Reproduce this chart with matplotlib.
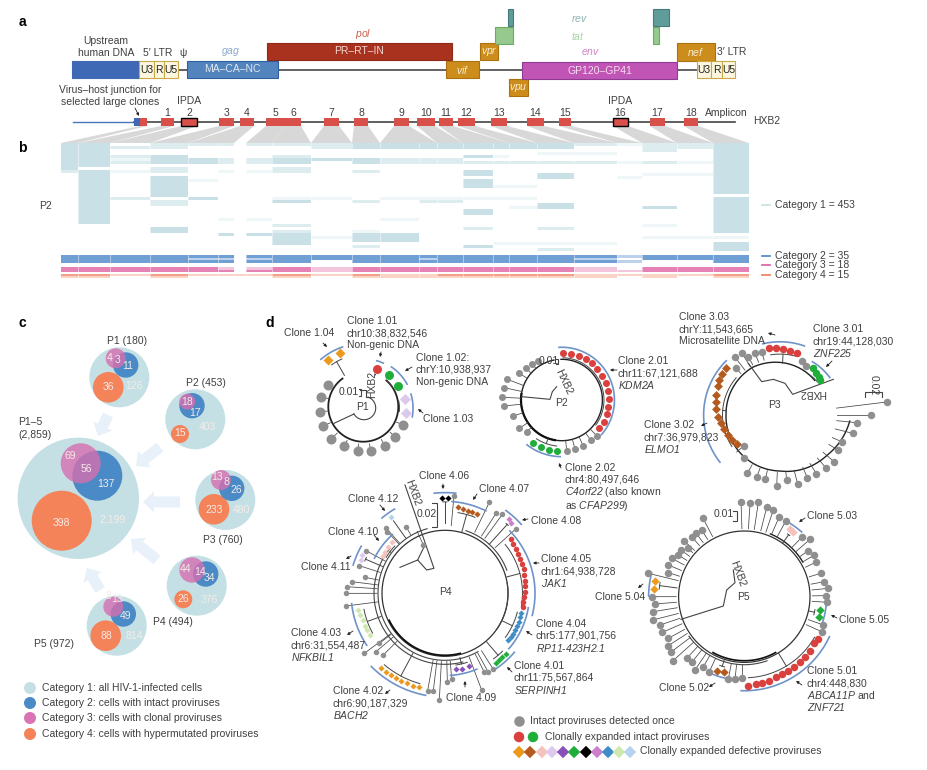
#!/usr/bin/env python
"""HIV-1 provirus figure: genome map, amplicon heat map, Venn bubbles and clone trees.

The whole figure is one axes scaled to the picture's pixels. Tree tips were read
off 3x crops, so they are kept as crop coordinates and converted with crop().
"""

import numpy as np
import matplotlib

matplotlib.use("Agg")
import matplotlib.pyplot as plt
from matplotlib.colors import ListedColormap
from matplotlib.patches import Circle, FancyArrow, Rectangle

plt.rcParams["font.family"] = ["Liberation Sans", "DejaVu Sans"]
plt.rcParams["mathtext.fontset"] = "custom"
# digits in mathtext come from the rm slot, so that one is italic as well
plt.rcParams["mathtext.rm"] = "Liberation Sans:italic"
plt.rcParams["mathtext.it"] = "Liberation Sans:italic"

W, H = 927, 770
FS = 7.5
INK = "#3f3f3f"

# panel a: genome map, (name, start, end, top, bottom, fill, edge, label colour)
GENES = [
    ("", 72, 139, 61, 78, "#3f68b5", "#3f68b5", "white"),
    ("MA–CA–NC", 187, 278, 61, 78, "#5384bd", "#2f5f9f", "#dfe8f2"),
    ("PR–RT–IN", 267, 452, 43, 60, "#a8321e", "#8f2a18", "#f2d8d2"),
    ("$\\mathit{vif}$", 446, 479, 61, 78, "#cc8d1c", "#a9720f", "#f8ecd2"),
    ("$\\mathit{vpr}$", 480, 498, 43, 60, "#cc8d1c", "#a9720f", "#f8ecd2"),
    ("$\\mathit{vpu}$", 509, 528, 79, 96, "#cc8d1c", "#a9720f", "#f8ecd2"),
    ("$\\mathit{nef}$", 677, 715, 43, 61, "#cc8d1c", "#a9720f", "#f8ecd2"),
    ("GP120–GP41", 522, 677, 62, 79, "#c155b5", "#8e3b96", "#f4dcf1"),
    ("", 495, 513, 27, 44, "#95c98d", "#6ea968", "white"),
    ("", 653, 659, 27, 44, "#95c98d", "#6ea968", "white"),
    ("", 508, 513, 9, 26, "#5f9c9a", "#437c7a", "white"),
    ("", 653, 669, 9, 26, "#5f9c9a", "#437c7a", "white"),
]
LTR_NAMES = ["U3", "R", "U5"]
LTR5_EDGES = [139, 154, 164, 178]
LTR3_EDGES = [697, 711, 722, 735]
GENOME_LINKS = [(178, 187), (278, 446), (479, 522), (677, 697)]

# amplicons along HXB2
AMP_NAMES = ["", "1", "2", "3", "4", "5", "6", "7", "8", "9", "10", "11", "12", "13", "14", "15", "16", "17", "18"]
AMP_START = [140, 161, 181, 219, 240, 266, 285, 324, 354, 394, 417, 439, 458, 491, 527, 559, 613, 650, 684]
AMP_END = [147, 174, 197, 234, 254, 285, 301, 339, 368, 409, 435, 453, 475, 507, 544, 571, 628, 665, 698]
AMP_IPDA = ["2", "16"]
# first and last heat map column fed by each amplicon
AMP_COL_FROM = [0, 1, 2, 3, 4, 7, 8, 9, 10, 11, 13, 14, 16, 17, 18, 19, 20, 21, 22]
AMP_COL_TO = [0, 1, 2, 3, 5, 7, 8, 9, 10, 12, 13, 15, 16, 17, 18, 19, 20, 21, 22]

# panel b: heat map columns
COL_EDGES = [61, 78, 110, 150, 188, 218, 234, 246, 272, 311, 352, 380, 419, 437, 463, 493, 509, 537, 574, 617, 642, 677, 713, 749]
# category 1, per column: (first row, last row + 1, level)
CAT1_BANDS = [
    [(0, 9, 3), (9, 10, 2)],
    [(0, 8, 3), (9, 27, 3)],
    [(1, 2, 2), (4, 5, 2), (5, 6, 1), (6, 7, 2), (9, 10, 1), (18, 19, 2)],
    [(0, 2, 2), (4, 7, 3), (8, 10, 2), (11, 18, 3), (19, 21, 2), (28, 30, 3)],
    [(0, 1, 2), (5, 7, 3), (18, 19, 3), (12, 13, 1)],
    [(0, 1, 2), (5, 7, 2), (25, 26, 1), (30, 31, 3), (9, 10, 1)],
    [],
    [(0, 1, 2), (5, 7, 2), (25, 26, 1), (30, 31, 3), (9, 10, 1)],
    [(0, 1, 2), (4, 5, 2), (5, 7, 3), (8, 10, 2), (19, 20, 3), (27, 28, 2), (29, 30, 2), (30, 34, 3), (18, 19, 1)],
    [(0, 2, 2), (5, 6, 3), (31, 32, 1), (18, 19, 1)],
    [(0, 2, 3), (5, 7, 3), (9, 10, 2), (19, 20, 2), (29, 30, 1), (30, 33, 3), (34, 35, 2)],
    [(0, 2, 3), (5, 7, 2), (30, 33, 3), (25, 26, 1), (18, 19, 1)],
    [(0, 2, 3), (5, 7, 2), (19, 20, 2), (18, 19, 1)],
    [(0, 2, 3), (5, 7, 2), (19, 20, 2), (18, 19, 1)],
    [(0, 2, 3), (4, 5, 3), (6, 7, 2), (9, 11, 3), (12, 15, 3), (22, 24, 3), (28, 29, 2), (34, 35, 3), (18, 19, 1)],
    [(0, 2, 3), (4, 5, 1), (6, 7, 2), (14, 15, 1), (18, 19, 1), (33, 34, 1)],
    [(0, 2, 3), (6, 7, 2), (14, 15, 1), (18, 19, 1), (21, 22, 1), (33, 34, 1)],
    [(0, 2, 3), (3, 4, 1), (6, 7, 2), (10, 12, 3), (20, 22, 3), (28, 29, 2), (35, 36, 2), (33, 34, 1)],
    [(0, 1, 2), (3, 4, 1), (6, 7, 2), (33, 34, 1)],
    [(0, 1, 1), (6, 7, 1), (11, 12, 1)],
    [(0, 3, 2), (6, 7, 2), (10, 11, 1), (21, 22, 3), (27, 28, 1), (31, 32, 1)],
    [(0, 2, 2), (6, 7, 1), (10, 11, 1), (31, 32, 1)],
    [(0, 5, 3), (5, 17, 3), (18, 30, 3), (31, 32, 1), (33, 36, 3)],
]
N_CAT1_ROWS = 36
# categories 2 to 4, per column, top row first, level digit per row
CAT2_ROWS = ["222", "222", "222", "222", "212", "212", "000", "212", "222", "220", "222", "222", "212",
             "222", "222", "222", "222", "222", "212", "101", "220", "220", "222"]
CAT3_ROWS = ["22", "22", "22", "22", "22", "12", "00", "12", "22", "11", "22", "22", "22",
             "22", "22", "22", "22", "22", "11", "01", "22", "22", "22"]
CAT4_ROWS = ["21", "21", "10", "21", "10", "10", "10", "10", "21", "10", "21", "11", "11",
             "21", "21", "21", "21", "21", "11", "10", "11", "10", "21"]
B_LEGEND = ["Category 1 = 453", "Category 2 = 35", "Category 3 = 18", "Category 4 = 15"]
B_LEGEND_Y = [205, 256, 265, 275]

CAT_COLORS = ["#c5e0e4", "#4a8ac6", "#d974b4", "#f5835a"]
CAT_LABELS = [
    "Category 1: all HIV-1-infected cells",
    "Category 2: cells with intact proviruses",
    "Category 3: cells with clonal proviruses",
    "Category 4: cells with hypermutated proviruses",
]

# panel c: one row per bubble group, circles in the order all, hyper, intact, clonal
BUB_X = [
    [119.3, 108.3, 125.7, 115.7],
    [195.3, 180.0, 192.0, 187.3],
    [225.3, 214.0, 231.7, 221.0],
    [196.7, 183.3, 205.7, 192.0],
    [116.7, 105.7, 123.3, 113.3],
    [78.3, 61.7, 97.3, 80.7],
]
BUB_Y = [
    [377.3, 387.3, 365.0, 358.3],
    [419.3, 434.0, 405.7, 401.7],
    [500.0, 509.3, 488.3, 480.0],
    [585.7, 599.3, 574.0, 570.0],
    [625.7, 635.7, 614.0, 606.7],
    [498.3, 520.7, 475.7, 463.3],
]
BUB_R = [
    [30, 15.3, 12.7, 10],
    [30, 9, 12.7, 8],
    [30, 15.3, 12.7, 10],
    [30, 9, 12.7, 12.7],
    [30, 15.3, 12.7, 10],
    [60.7, 30, 25, 20],
]
# (text, x, y)
BUB_VALUES = [
    ("126", 134, 386), ("36", 108, 387), ("11", 128, 366), ("3", 118, 360), ("4", 110, 358),
    ("403", 207, 427), ("15", 180, 433), ("17", 195, 413), ("18", 187, 402),
    ("480", 241, 510), ("233", 214, 510), ("26", 236, 490), ("8", 226, 482), ("13", 217, 477),
    ("376", 209, 600), ("26", 183, 599), ("34", 209, 578), ("14", 200, 572), ("44", 186, 569),
    ("814", 134, 636), ("88", 106, 636), ("49", 126, 616), ("13", 117, 599), ("8", 108, 596),
    ("2,199", 113, 520), ("398", 61, 523), ("137", 106, 484), ("56", 86, 469), ("69", 70, 456),
]
BUB_TITLES = [
    ("P1 (180)", 127, 341), ("P2 (453)", 206, 383), ("P3 (760)", 223, 540),
    ("P4 (494)", 173, 622), ("P5 (972)", 54, 644),
]
FLOW_FROM = [(108, 415), (160, 447), (180, 502), (157, 560), (100, 590)]
FLOW_TO = [(98, 436), (136, 466), (143, 502), (131, 539), (87, 568)]

# panel d: tips
P1_CROP = (260, 300)
P1_GREY = [(203, 256), (184, 290), (180, 335), (189, 378), (213, 417), (253, 438), (293, 452), (332, 452), (375, 438), (405, 410), (430, 375)]
P1_RED = [(352, 208)]
P1_GREEN = [(388, 226), (415, 257)]
P1_LILAC = [(435, 297), (437, 338)]
P1_ORANGE = [(203, 181), (240, 160)]

P2_CROP = (490, 330)
P2_GREY = [(320, 317), (302, 330), (280, 348), (255, 357), (230, 362), (110, 305), (88, 295), (70, 258), (42, 228), (37, 202), (42, 173), (52, 148), (88, 130), (107, 115), (127, 102), (145, 92)]
P2_RED = [(218, 68), (243, 71), (266, 78), (287, 87), (305, 100), (322, 118), (335, 138), (348, 160), (355, 183), (357, 207), (355, 230), (352, 252), (342, 275), (328, 295)]
P2_GREEN = [(200, 362), (176, 360), (152, 350), (130, 338)]

P3_CROP = (620, 300)
P3_GREY = [(425, 155), (405, 160), (385, 170), (365, 158), (345, 172), (348, 205), (545, 183), (557, 197), (372, 437), (373, 473), (382, 520), (410, 532), (436, 538), (470, 558), (500, 540), (533, 552), (562, 533), (589, 521), (619, 505), (642, 485), (654, 450), (665, 425), (698, 400), (710, 368), (752, 345), (800, 306)]
P3_RED = [(447, 143), (468, 143), (490, 147), (510, 152), (530, 160)]
P3_GREEN = [(580, 205), (588, 218), (597, 230), (600, 240)]
P3_BROWN = [(318, 205), (305, 222), (298, 240), (293, 258), (288, 285), (287, 305), (288, 328), (295, 350), (302, 368), (312, 388), (325, 405), (337, 420), (350, 432)]

P4_CROP = (280, 480)
P4_GREY = [(522, 47), (628, 67), (648, 100), (667, 103), (707, 147), (640, 568), (625, 577), (605, 630), (612, 575), (515, 598), (502, 605), (478, 660), (460, 632), (443, 632), (310, 525), (288, 515), (253, 520), (298, 490), (198, 378), (198, 340), (200, 320), (215, 305), (255, 292), (238, 257), (258, 212), (322, 155), (317, 143), (378, 140), (430, 195)]
P4_RED = [(692, 178), (700, 192), (708, 207), (715, 222), (721, 237), (727, 252), (731, 268), (733, 285), (735, 302), (736, 318), (735, 335), (733, 350), (730, 365), (728, 380)]
P4_BLUE = [(724, 398), (720, 412), (716, 425), (712, 438), (706, 450), (700, 462), (692, 470), (684, 480)]
P4_GREEN = [(678, 522), (667, 530), (657, 540), (647, 548)]
P4_PURPLE = [(528, 568), (546, 566), (567, 557)]
P4_ORANGE = [(302, 565), (318, 575), (333, 585), (348, 595), (363, 602), (380, 610), (400, 617), (418, 622)]
P4_LTGREEN = [(233, 390), (240, 405), (248, 420), (255, 437), (262, 450), (270, 465)]
P4_LILAC = [(247, 225), (243, 240)]
P4_PINK = [(335, 187), (325, 200), (315, 215), (308, 228)]
P4_LTBLUE = [(333, 112)]
P4_BROWN = [(535, 82), (550, 87), (563, 92), (576, 96), (590, 103)]
P4_MAGENTA = [(687, 118), (693, 130)]
P4_BLACK = [(487, 53), (503, 53)]

P5_CROP = (580, 480)
P5_GREY = [(483, 65), (510, 70), (535, 67), (560, 82), (580, 90), (597, 112), (618, 122), (667, 170), (690, 178), (683, 213), (703, 225), (707, 247), (722, 280), (733, 305), (745, 325), (737, 347), (742, 367), (730, 435), (725, 455), (368, 113), (365, 150), (347, 158), (335, 170), (313, 183), (323, 205), (303, 210), (295, 225), (275, 235), (265, 255), (265, 278), (205, 280), (217, 350), (225, 372), (220, 395), (218, 420), (240, 435), (247, 457), (265, 475), (265, 497), (272, 517), (278, 543), (320, 535), (337, 545), (345, 570), (370, 560), (388, 575), (445, 597), (465, 597), (487, 595)]
P5_RED = [(714, 476), (703, 490), (690, 512), (675, 530), (660, 545), (643, 560), (625, 572), (607, 582), (588, 592), (568, 602), (547, 608), (527, 613), (505, 617)]
P5_BROWN = [(412, 572), (432, 575)]
P5_ORANGE = [(225, 303), (222, 327)]
P5_PINK = [(630, 148), (640, 155)]
P5_GREEN = [(720, 390), (717, 410)]

GREY = "#8f8f8f"
RED = "#d9403e"
GREEN = "#1fae3a"
ORANGE = "#ec9a1f"
BROWN = "#b45a1f"
PINK = "#f5c2bd"
LILAC = "#dcc9ec"
PURPLE = "#8a50ba"
MAGENTA = "#cc7fcb"
BLUE = "#3e8dc4"
LTGREEN = "#cfe8b0"
LTBLUE = "#b5d3ec"
ARC_BLUE = "#6f93c9"
DIAMOND_KEY = [ORANGE, BROWN, PINK, LILAC, PURPLE, GREEN, "black", MAGENTA, BLUE, LTGREEN, LTBLUE]
DIAMOND_KEY_X = [519, 530, 542, 552, 563, 574, 586, 597, 608, 619, 630]

# (lines, x, first y); line spacing is 12 px, mathtext marks the italic parts
CLONE_TEXT = [
    (["Clone 1.04"], 284, 333),
    (["Clone 1.01", "chr10:38,832,546", "Non-genic DNA"], 347, 321),
    (["Clone 1.02:", "chrY:10,938,937", "Non-genic DNA"], 416, 358),
    (["Clone 1.03"], 423, 419),
    (["Clone 2.01", "chr11:67,121,688", "$\\mathit{KDM2A}$"], 618, 361),
    (["Clone 2.02", "chr4:80,497,646", "$\\mathit{C4orf22}$ (also known"], 565, 468),
    (["as $\\mathit{CFAP299}$)"], 565, 506),
    (["Clone 3.03", "chrY:11,543,665", "Microsatellite DNA"], 679, 317),
    (["Clone 3.01", "chr19:44,128,030", "$\\mathit{ZNF225}$"], 813, 329),
    (["Clone 3.02", "chr7:36,979,823", "$\\mathit{ELMO1}$"], 644, 425),
    (["Clone 4.06"], 419, 476),
    (["Clone 4.07"], 479, 489),
    (["Clone 4.08"], 531, 521),
    (["Clone 4.12"], 348, 499),
    (["Clone 4.10"], 328, 532),
    (["Clone 4.11"], 301, 567),
    (["Clone 4.05", "chr1:64,938,728", "$\\mathit{JAK1}$"], 541, 559),
    (["Clone 4.04", "chr5:177,901,756", "$\\mathit{RP11}$-$\\mathit{423H2.1}$"], 536, 624),
    (["Clone 4.01", "chr11:75,567,864", "$\\mathit{SERPINH1}$"], 514, 666),
    (["Clone 4.09"], 446, 698),
    (["Clone 4.02", "chr6:90,187,329", "$\\mathit{BACH2}$"], 333, 691),
    (["Clone 4.03", "chr6:31,554,487", "$\\mathit{NFKBIL1}$"], 291, 633),
    (["Clone 5.03"], 807, 516),
    (["Clone 5.04"], 595, 597),
    (["Clone 5.05"], 839, 620),
    (["Clone 5.01", "chr4:448,830", "$\\mathit{ABCA11P}$ and", "$\\mathit{ZNF721}$"], 807, 671),
    (["Clone 5.02"], 659, 688),
]
# (text, x, y, rotation)
TREE_TEXT = [
    ("P1", 363, 407, 0), ("HXB2", 372, 384, 90), ("0.01", 349, 392, 0),
    ("P2", 562, 403, 0), ("HXB2", 564, 382, -65), ("0.01", 549, 361, 0),
    ("P3", 774, 405, 0), ("HXB2", 813, 393, 180), ("0.02", 874, 385, -90),
    ("P4", 445, 592, 0), ("HXB2", 413, 493, -70), ("0.02", 427, 514, 0),
    ("P5", 743, 597, 0), ("HXB2", 738, 574, -70), ("0.01", 724, 514, 0),
]
POINTER_FROM = [(323, 343), (381, 352), (412, 367), (423, 413), (617, 370), (561, 468), (775, 335), (832, 361), (707, 423),
                (443, 484), (477, 494), (528, 519), (380, 505), (374, 535), (351, 556), (539, 563), (532, 635), (512, 672),
                (465, 687), (390, 690), (353, 631), (805, 518), (643, 584), (837, 618), (802, 685), (715, 683), (135, 108)]
POINTER_TO = [(327, 347), (380, 357), (405, 371), (418, 409), (610, 370), (559, 463), (768, 333), (826, 367), (701, 426),
              (443, 489), (473, 500), (522, 520), (385, 511), (379, 541), (346, 559), (533, 563), (526, 631), (507, 667),
              (465, 681), (385, 694), (347, 635), (799, 522), (638, 588), (831, 615), (796, 681), (709, 687), (139, 116)]


def crop(points, origin):
    """3x crop coordinates to picture pixels."""
    pts = np.asarray(points, dtype=float)
    return origin[0] + pts[:, 0] / 3, origin[1] + pts[:, 1] / 3


def put(ax, x, y, s, size=FS, color=INK, ha="center", va="center", **kw):
    ax.text(x, y, s, fontsize=size, color=color, ha=ha, va=va, **kw)


def arc_xy(center, radius, a0, a1):
    ang = np.radians(np.linspace(a0, a1, 120))
    return center[0] + radius * np.cos(ang), center[1] - radius * np.sin(ang)


def arc(ax, center, radius, a0, a1, color="#444444", lw=0.8):
    x, y = arc_xy(center, radius, a0, a1)
    ax.plot(x, y, color=color, lw=lw, solid_capstyle="butt", zorder=2)


def marks(ax, x, y, color, marker, d):
    size = (d * 0.72) ** 2
    if marker == "D":
        size *= 0.62
    ax.scatter(x, y, s=size, c=color, marker=marker, linewidths=0, zorder=3)


def tips(ax, pts, origin, center, rb, color, d=8):
    """Single proviruses: marker with its own straight branch back to radius rb."""
    x, y = crop(pts, origin)
    dist = np.hypot(x - center[0], y - center[1])
    fx = center[0] + (x - center[0]) * rb / dist
    fy = center[1] + (y - center[1]) * rb / dist
    for a, b, c, e in zip(fx, fy, x, y):
        ax.plot([a, c], [b, e], color="#444444", lw=0.55, zorder=2)
    marks(ax, x, y, color, "o", d)


def clone(ax, pts, origin, center, rb, color, marker="o", d=8, gap=4):
    """A clone: markers on one inner bracket, one stem to rb, blue arc outside."""
    x, y = crop(pts, origin)
    dist = np.hypot(x - center[0], y - center[1])
    ang = np.unwrap(np.degrees(np.arctan2(center[1] - y, x - center[0])), period=360)
    inner = dist.mean() - d / 2 - 1.5
    outer = dist.max() + gap
    mid = np.radians(ang.mean())
    arc(ax, center, inner, ang.min(), ang.max(), lw=0.7)
    ax.plot([center[0] + rb * np.cos(mid), center[0] + inner * np.cos(mid)],
            [center[1] - rb * np.sin(mid), center[1] - inner * np.sin(mid)],
            color="#444444", lw=0.7, zorder=2)
    marks(ax, x, y, color, marker, d)
    arc(ax, center, outer, ang.min() - 5, ang.max() + 5, color=ARC_BLUE, lw=1.2)


def path(ax, pts, origin, lw=0.8, color="#444444"):
    x, y = crop(pts, origin)
    ax.plot(x, y, color=color, lw=lw, zorder=2, solid_joinstyle="miter")


def panel_a(ax):
    for lo, hi in GENOME_LINKS:
        ax.plot([lo, hi], [70, 70], color="#555555", lw=1.3, zorder=1)
    for name, x0, x1, top, bottom, fill, edge, label in GENES:
        ax.add_patch(Rectangle((x0, top), x1 - x0, bottom - top, fc=fill, ec=edge, lw=0.8, zorder=2))
        if name:
            put(ax, (x0 + x1) / 2, (top + bottom) / 2, name, color=label, zorder=3)
    for edges in (LTR5_EDGES, LTR3_EDGES):
        for name, x0, x1 in zip(LTR_NAMES, edges[:-1], edges[1:]):
            ax.add_patch(Rectangle((x0, 61), x1 - x0, 17, fc="#fdf7e0", ec="#c9a84a", lw=0.8, zorder=2))
            put(ax, (x0 + x1) / 2, 70, name, color="#222222", zorder=3)
    put(ax, 106, 41, "Upstream")
    put(ax, 106, 53, "human DNA")
    put(ax, 158, 53, "5′ LTR")
    put(ax, 183, 53, "ψ")
    put(ax, 231, 52, "$\\mathit{gag}$", color="#8aa9d0")
    put(ax, 363, 34, "$\\mathit{pol}$", color="#c8604e")
    put(ax, 579, 18, "$\\mathit{rev}$", color="#88b3b1")
    put(ax, 578, 36, "$\\mathit{tat}$", color="#a9d3a3")
    put(ax, 591, 52, "$\\mathit{env}$", color="#cf85c6")
    put(ax, 717, 52, "3′ LTR", ha="left")

    put(ax, 110, 90, "Virus–host junction for")
    put(ax, 110, 102, "selected large clones")
    ax.plot([73, 134], [122, 122], color="#4a76b4", lw=1.0, zorder=1)
    ax.plot([134, 735], [122, 122], color="#444444", lw=1.2, zorder=1)
    ax.add_patch(Rectangle((134, 118), 6, 8, fc="#3f68b5", ec="none", zorder=2))
    for name, x0, x1 in zip(AMP_NAMES, AMP_START, AMP_END):
        framed = name in AMP_IPDA
        ax.add_patch(Rectangle((x0, 118), x1 - x0, 8, fc="#d9504a", ec="black" if framed else "none",
                               lw=1.0, zorder=2))
        if name:
            put(ax, (x0 + x1) / 2, 113, name)
        if framed:
            put(ax, (x0 + x1) / 2, 101, "IPDA")
    put(ax, 705, 113, "Amplicon", ha="left")
    put(ax, 753, 121, "HXB2", ha="left")


def panel_b(ax):
    top = 143
    for x0, x1, c0, c1 in zip(AMP_START, AMP_END, AMP_COL_FROM, AMP_COL_TO):
        ax.fill([x0, x1, COL_EDGES[c1 + 1], COL_EDGES[c0]], [126, 126, top, top],
                color="#d8d8d8", lw=0, zorder=1)

    # category 1
    cat1 = np.zeros((N_CAT1_ROWS, len(CAT1_BANDS)))
    for col, bands in enumerate(CAT1_BANDS):
        for r0, r1, level in bands:
            cat1[r0:r1, col] = level
    edges = top + 3.0 * np.arange(N_CAT1_ROWS + 1)
    ax.pcolormesh(COL_EDGES, edges, cat1, vmin=0, vmax=3, zorder=2,
                  cmap=ListedColormap(["white", "#eef6f7", "#dcecef", "#c9e1e6"]))

    # categories 2-4
    for rows, y0, y1, palette in (
        (CAT2_ROWS, 255, 263, ["white", "#bcd2ec", "#6f9fd3"]),
        (CAT3_ROWS, 267, 272, ["white", "#f4c6dd", "#e581b4"]),
        (CAT4_ROWS, 274, 278, ["white", "#f9d3c6", "#f2a088"]),
    ):
        vals = np.array([[int(c) for c in col] for col in rows]).T
        ax.pcolormesh(COL_EDGES, np.linspace(y0, y1, vals.shape[0] + 1), vals, vmin=0, vmax=2,
                      cmap=ListedColormap(palette), zorder=2)
    ax.vlines(COL_EDGES[1:-1], top, 278, color="white", lw=0.4, alpha=0.8, zorder=3)

    put(ax, 46, 206, "P2")
    key = ["#c5e0e4", "#4a85c4", "#d85aa4", "#ef7a55"]
    for label, y, color in zip(B_LEGEND, B_LEGEND_Y, key):
        ax.plot([762, 770], [y, y], color=color, lw=1.2)
        put(ax, 775, y, label, ha="left")


def panel_c(ax):
    for (x0, y0), (x1, y1) in zip(FLOW_FROM, FLOW_TO):
        ax.add_patch(FancyArrow(x0, y0, x1 - x0, y1 - y0, width=11, head_width=21, head_length=11,
                                length_includes_head=True, fc="#e8f0f9", ec="none", zorder=1))
    for xs, ys, rs in zip(BUB_X, BUB_Y, BUB_R):
        ax.add_patch(Circle((xs[0], ys[0]), rs[0], fc=CAT_COLORS[0], ec="none", zorder=2))
        ax.add_patch(Circle((xs[1], ys[1]), rs[1], fc=CAT_COLORS[3], ec="none", zorder=3))
        ax.add_patch(Circle((xs[2], ys[2]), rs[2], fc=CAT_COLORS[1], ec="none", zorder=3))
        ax.add_patch(Circle((xs[3], ys[3]), rs[3], fc="#d66fb0", ec="none", alpha=0.8, zorder=4))
    for s, x, y in BUB_VALUES:
        put(ax, x, y, s, color="#f4ece8", zorder=5)
    for s, x, y in BUB_TITLES:
        put(ax, x, y, s)
    put(ax, 18, 422, "P1–5", ha="left")
    put(ax, 18, 435, "(2,859)", ha="left")
    for color, label, y in zip(CAT_COLORS, CAT_LABELS, [688, 703, 718, 734]):
        ax.add_patch(Circle((30, y), 6, fc=color, ec="none"))
        put(ax, 42, y, label, ha="left")


def tree_p1(ax):
    o, c = P1_CROP, (363.3, 408.3)
    arc(ax, (363.3, 406.7), 35, 125, 410, color="#222222", lw=1.3)
    tips(ax, P1_GREY, o, c, 36, GREY, d=10)
    clone(ax, P1_RED, o, c, 36, RED, d=9, gap=8)
    clone(ax, P1_GREEN, o, c, 36, GREEN, d=9, gap=8)
    clone(ax, P1_LILAC, o, c, 36, LILAC, "D", d=10, gap=7)
    clone(ax, P1_ORANGE, o, c, 38, ORANGE, "D", d=9, gap=5)
    path(ax, [(222, 370), (282, 342)], o)
    ax_x, ax_y = arc_xy((364, 408), 11.7, 210, 430)
    ax.plot(ax_x, ax_y, color="#444444", lw=0.8, zorder=2)
    path(ax, [(318, 292), (318, 270), (300, 270)], o)
    path(ax, [(298, 268), (303, 268), (303, 288), (298, 288)], o)


def tree_p2(ax):
    o, c = P2_CROP, (561.7, 400)
    arc(ax, c, 40.7, 100, 452, color="#222222", lw=1.0)
    arc(ax, c, 40.7, 170, 262, color="#111111", lw=1.6)
    tips(ax, P2_GREY, o, c, 41, GREY, d=7)
    clone(ax, P2_RED, o, c, 41, RED, d=7, gap=5)
    clone(ax, P2_GREEN, o, c, 41, GREEN, d=7, gap=5)
    path(ax, [(95, 200), (180, 208), (187, 185), (200, 170)], o)
    path(ax, [(198, 88), (205, 88), (205, 102), (198, 102)], o)


def tree_p3(ax):
    o, c = P3_CROP, (780, 415)
    ang = np.linspace(45, 355, 200)
    rad = np.interp(ang, [45, 120, 180, 270, 320, 355], [49, 55, 54, 56, 62, 70])
    ax.plot(c[0] + rad * np.cos(np.radians(ang)), c[1] - rad * np.sin(np.radians(ang)),
            color="#222222", lw=1.0, zorder=2)
    tips(ax, P3_GREY, o, c, 57, GREY, d=7.5)
    clone(ax, P3_RED, o, c, 52, RED, d=7.5, gap=5)
    clone(ax, P3_GREEN, o, c, 50, GREEN, d=7.5, gap=5)
    clone(ax, P3_BROWN, o, c, 54, BROWN, "D", d=8, gap=5)
    path(ax, [(385, 190), (425, 245), (460, 238), (495, 250), (518, 283), (640, 238)], o)
    path(ax, [(735, 290), (735, 277), (785, 277), (785, 290)], o)


def tree_p4(ax):
    o, c = P4_CROP, (445, 593.3)
    arc(ax, c, 63, 90, 450, color="#333333", lw=0.9)
    arc(ax, c, 67, 105, 300)
    arc(ax, c, 71, 140, 285)
    arc(ax, c, 62, 205, 285, color="#111111", lw=1.3)
    arc(ax, c, 66, 20, 72)
    arc(ax, c, 63, -35, 10)
    tips(ax, P4_GREY, o, c, 68, GREY, d=5.5)
    for pts, color, mark, rb in (
        (P4_RED, RED, "o", 64), (P4_BLUE, BLUE, "D", 64), (P4_GREEN, GREEN, "D", 64),
        (P4_PURPLE, PURPLE, "D", 66), (P4_ORANGE, ORANGE, "D", 68), (P4_LTGREEN, LTGREEN, "D", 68),
        (P4_LILAC, LILAC, "D", 68), (P4_PINK, PINK, "D", 68), (P4_LTBLUE, LTBLUE, "D", 68),
        (P4_BROWN, BROWN, "D", 64), (P4_MAGENTA, MAGENTA, "D", 66), (P4_BLACK, "black", "D", 70),
    ):
        clone(ax, pts, o, c, rb, color, mark, d=5.5, gap=5)
    path(ax, [(375, 15), (462, 265), (440, 270), (413, 240), (360, 262)], o)
    path(ax, [(413, 240), (430, 205)], o)
    path(ax, [(455, 68), (470, 68), (470, 140), (455, 140)], o)


def tree_p5(ax):
    o, c = P5_CROP, (744.3, 596.7)
    arc(ax, c, 65.7, 90, 450, color="#333333", lw=0.9)
    arc(ax, c, 68, 215, 290)
    arc(ax, c, 64, 240, 300, color="#111111", lw=1.2)
    arc(ax, c, 68, 30, 68, color="#222222", lw=1.0)
    tips(ax, P5_GREY, o, c, 68, GREY, d=7.5)
    for pts, color, mark, rb in (
        (P5_RED, RED, "o", 66), (P5_BROWN, BROWN, "D", 66),
        (P5_ORANGE, ORANGE, "D", 68), (P5_PINK, PINK, "D", 66), (P5_GREEN, GREEN, "D", 66),
    ):
        clone(ax, pts, o, c, rb, color, mark, d=7.5, gap=5)
    path(ax, [(460, 270), (465, 308), (440, 330), (430, 378), (303, 418)], o)
    path(ax, [(460, 92), (470, 92), (470, 122), (460, 122)], o)


def panel_d(ax):
    tree_p1(ax)
    tree_p2(ax)
    tree_p3(ax)
    tree_p4(ax)
    tree_p5(ax)
    for lines, x, y0 in CLONE_TEXT:
        for i, line in enumerate(lines):
            put(ax, x, y0 + 12 * i, line, ha="left", zorder=6)
    for s, x, y, rot in TREE_TEXT:
        put(ax, x, y, s, rotation=rot, zorder=6)
    for start, end in zip(POINTER_FROM, POINTER_TO):
        ax.annotate("", xy=end, xytext=start, zorder=6,
                    arrowprops=dict(arrowstyle="-|>", color="#222222", lw=0.6, mutation_scale=4,
                                    shrinkA=0, shrinkB=0))
    ax.scatter([519], [721], s=(10.5 * 0.72) ** 2, c=GREY, linewidths=0)
    ax.scatter([519, 533], [737, 737], s=(10.5 * 0.72) ** 2, c=[RED, GREEN], linewidths=0)
    ax.scatter(DIAMOND_KEY_X, [752] * len(DIAMOND_KEY_X), s=40, c=DIAMOND_KEY, marker="D", linewidths=0)
    put(ax, 530, 721, "Intact proviruses detected once", ha="left")
    put(ax, 545, 737, "Clonally expanded intact proviruses", ha="left")
    put(ax, 640, 751, "Clonally expanded defective proviruses", ha="left")


def main():
    fig = plt.figure(figsize=(W / 100, H / 100), dpi=100)
    ax = fig.add_axes([0, 0, 1, 1])
    ax.set_xlim(0, W)
    ax.set_ylim(H, 0)
    ax.axis("off")

    for letter, x, y in (("a", 22, 22), ("b", 22, 148), ("c", 22, 323), ("d", 270, 323)):
        put(ax, x, y, letter, size=10, color="black", weight="bold")
    panel_a(ax)
    panel_b(ax)
    panel_c(ax)
    panel_d(ax)

    fig.savefig("out.png", dpi=100)
    plt.close(fig)


if __name__ == "__main__":
    main()
